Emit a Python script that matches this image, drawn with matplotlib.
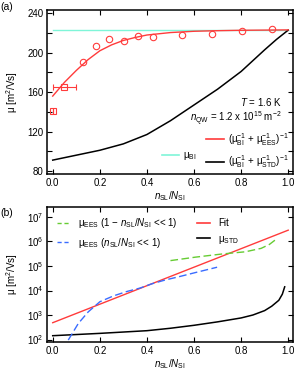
import matplotlib
matplotlib.use("Agg")
import matplotlib.pyplot as plt
from matplotlib.lines import Line2D
import numpy as np

plt.rcParams['font.family'] = ['Liberation Sans', 'DejaVu Sans']
plt.rcParams['mathtext.fontset'] = 'custom'
plt.rcParams['mathtext.rm'] = 'Liberation Sans'
plt.rcParams['mathtext.it'] = 'Liberation Sans:italic'
plt.rcParams['mathtext.bf'] = 'Liberation Sans:bold'
plt.rcParams['font.size'] = 7

# ---------------- data: panel (a) ----------------
mu_bi_x = [0.0, 1.0]
mu_bi_y = [223.0, 223.0]

fit_a_x = [0.0, 0.05, 0.1, 0.15, 0.2, 0.25, 0.3, 0.35, 0.4, 0.5, 0.6, 0.7, 0.8, 0.9, 1.0]
fit_a_y = [156, 170, 182, 193, 202, 208, 212.5, 215.5, 218, 220.5, 221.8, 222.4, 222.8, 223.0, 223.2]

std_a_x = [0.0, 0.1, 0.2, 0.3, 0.4, 0.5, 0.6, 0.7, 0.8, 0.9, 0.95, 1.0]
std_a_y = [91, 96, 101, 107.5, 117, 131, 147, 163, 181, 203, 213.5, 223]

circ_x = [0.128, 0.184, 0.241, 0.303, 0.364, 0.424, 0.551, 0.677, 0.804, 0.932]
circ_y = [190.3, 207.1, 213.6, 212.2, 217.0, 216.3, 218.3, 219.0, 221.7, 223.8]

sq_x = [0.0, 0.05]
sq_y = [140.9, 165.6]
sq_xerr = [0.0, 0.05]

# ---------------- data: panel (b) ----------------
fit_b_x = [0.0, 1.0]
fit_b_y = [485, 2.9e6]

std_b_x = [0.0, 0.2, 0.4, 0.5, 0.6, 0.7, 0.8, 0.85, 0.9, 0.93, 0.96, 0.975, 0.985]
std_b_y = [143, 178, 229, 288, 380, 525, 759, 1000, 1514, 2291, 3981, 7079, 14125]

blue_x = [0.066, 0.109, 0.151, 0.2, 0.258, 0.315, 0.371, 0.42, 0.478, 0.535, 0.605, 0.698]
blue_y = [95, 457, 1349, 3467, 6026, 9120, 12589, 18621, 26915, 36308, 53703, 89125]

green_x = [0.5, 0.605, 0.719, 0.818, 0.885, 0.92, 0.95]
green_y = [165959, 229087, 309030, 380189, 524807, 758578, 1258925]

x_ticks = [0.0, 0.2, 0.4, 0.6, 0.8, 1.0]
x_ticklabels = ['0.0', '0.2', '0.4', '0.6', '0.8', '1.0']
ya_ticks = [80, 120, 160, 200, 240]

RED = '#ff3b3b'
CYAN = '#7ff5d8'
BLUE = '#3a6cff'
GREEN = '#66cc33'

W, H = 295, 373
fig = plt.figure(figsize=(W / 100, H / 100), dpi=100)

def px_axes(l, t, r, b):
    return fig.add_axes([l / W, 1 - b / H, (r - l) / W, (b - t) / H])

axa = px_axes(47.3, 10, 292.7, 174.3)
axb = px_axes(47.3, 206.7, 292.7, 342.3)

xl = (-0.023, 1.019)
xlabel = r'$n_{\rm SL}/N_{\rm SI}$'

def style(ax):
    for s in ax.spines.values():
        s.set_linewidth(1.1)
    ax.tick_params(which='both', direction='in', top=True, right=True,
                   length=3.5, width=0.8, pad=2.5, labelsize=7)
    ax.set_xlim(*xl)
    ax.set_xticks(x_ticks)
    ax.set_xticklabels(x_ticklabels)

# ---------- panel (a) ----------
style(axa)
axa.plot(mu_bi_x, mu_bi_y, color=CYAN, lw=1.0, zorder=2)
axa.plot(std_a_x, std_a_y, color='black', lw=1.1, zorder=3)
axa.plot(fit_a_x, fit_a_y, color=RED, lw=1.0, zorder=4)
axa.plot(circ_x, circ_y, 'o', ms=4.6, mfc='none', mec=RED, mew=0.8, zorder=5)
axa.errorbar(sq_x, sq_y, xerr=sq_xerr, fmt='s', ms=4.6, mfc='none', mec=RED,
             mew=0.8, ecolor=RED, elinewidth=0.8, capsize=2, capthick=0.8, zorder=5)
axa.set_ylim(76.6, 243.4)
axa.set_yticks(ya_ticks)
axa.set_yticks([100, 140, 180, 220], minor=True)
axa.set_ylabel('μ [m$^2$/Vs]', fontsize=7)
axa.yaxis.set_label_coords(-0.112, 0.5)
axa.set_xlabel(xlabel, fontsize=7, labelpad=1)

axa.text(0.955, 0.44, '$T$ = 1.6 K', transform=axa.transAxes, ha='right', va='center', fontsize=7)
axa.text(0.955, 0.335, r'$n_{\rm QW}$ = 1.2 x 10$^{15}$ m$^{-2}$', transform=axa.transAxes,
         ha='right', va='center', fontsize=7)

blank = Line2D([], [], color='none')
h_bi = Line2D([], [], color=CYAN, lw=1.2)
h_ees = Line2D([], [], color=RED, lw=1.2)
h_std = Line2D([], [], color='black', lw=1.2)
lab_bi = r'μ$_{\rm BI}$'
lab_ees = r'(μ$_{\rm BI}^{-1}$ + μ$_{\rm EES}^{-1}$)$^{-1}$'
lab_std = r'(μ$_{\rm BI}^{-1}$ + μ$_{\rm STD}^{-1}$)$^{-1}$'
axa.legend([blank, h_bi, h_ees, h_std], ['', lab_bi, lab_ees, lab_std], ncol=2,
           loc='lower right', frameon=False, fontsize=7, handlelength=1.8,
           handletextpad=0.4, columnspacing=1.0, labelspacing=0.55,
           borderaxespad=0.15, borderpad=0.3)

axa.text(-0.19, 1.02, '(a)', transform=axa.transAxes, ha='left', va='center', fontsize=7.5)

# ---------- panel (b) ----------
style(axb)
axb.set_yscale('log')
axb.plot(std_b_x, std_b_y, color='black', lw=1.1, zorder=2)
axb.plot(fit_b_x, fit_b_y, color=RED, lw=1.0, zorder=3)
axb.plot(blue_x, blue_y, color=BLUE, lw=1.0, dashes=(5.5, 2.5), zorder=4)
axb.plot(green_x, green_y, color=GREEN, lw=1.0, dashes=(5.5, 2.5), zorder=4)
axb.set_ylim(10 ** 1.886, 10 ** 7.42)
axb.set_yticks([1e2, 1e3, 1e4, 1e5, 1e6, 1e7])
axb.yaxis.set_minor_locator(matplotlib.ticker.NullLocator())
axb.set_ylabel('μ [m$^2$/Vs]', fontsize=7)
axb.yaxis.set_label_coords(-0.112, 0.5)
axb.set_xlabel(xlabel, fontsize=7, labelpad=1)

hg = Line2D([], [], color=GREEN, lw=1.0, dashes=(3, 2))
hb = Line2D([], [], color=BLUE, lw=1.0, dashes=(3, 2))
hr = Line2D([], [], color=RED, lw=1.2)
hk = Line2D([], [], color='black', lw=1.2)
lab_g = r'μ$_{\rm EES}$ (1 − $n_{\rm SL}/N_{\rm SI}$ << 1)'
lab_b = r'μ$_{\rm EES}$ ($n_{\rm SL}/N_{\rm SI}$ << 1)'
axb.legend([hg, hb, hr, hk], [lab_g, lab_b, 'Fit', r'μ$_{\rm STD}$'], ncol=2,
           loc='upper left', frameon=False, fontsize=7, handlelength=1.3,
           handletextpad=0.9, columnspacing=2.0, labelspacing=0.6,
           borderaxespad=0.55, borderpad=0.4)

axb.text(-0.19, 0.95, '(b)', transform=axb.transAxes, ha='left', va='center', fontsize=7.5)

fig.savefig('out.png', dpi=100)
